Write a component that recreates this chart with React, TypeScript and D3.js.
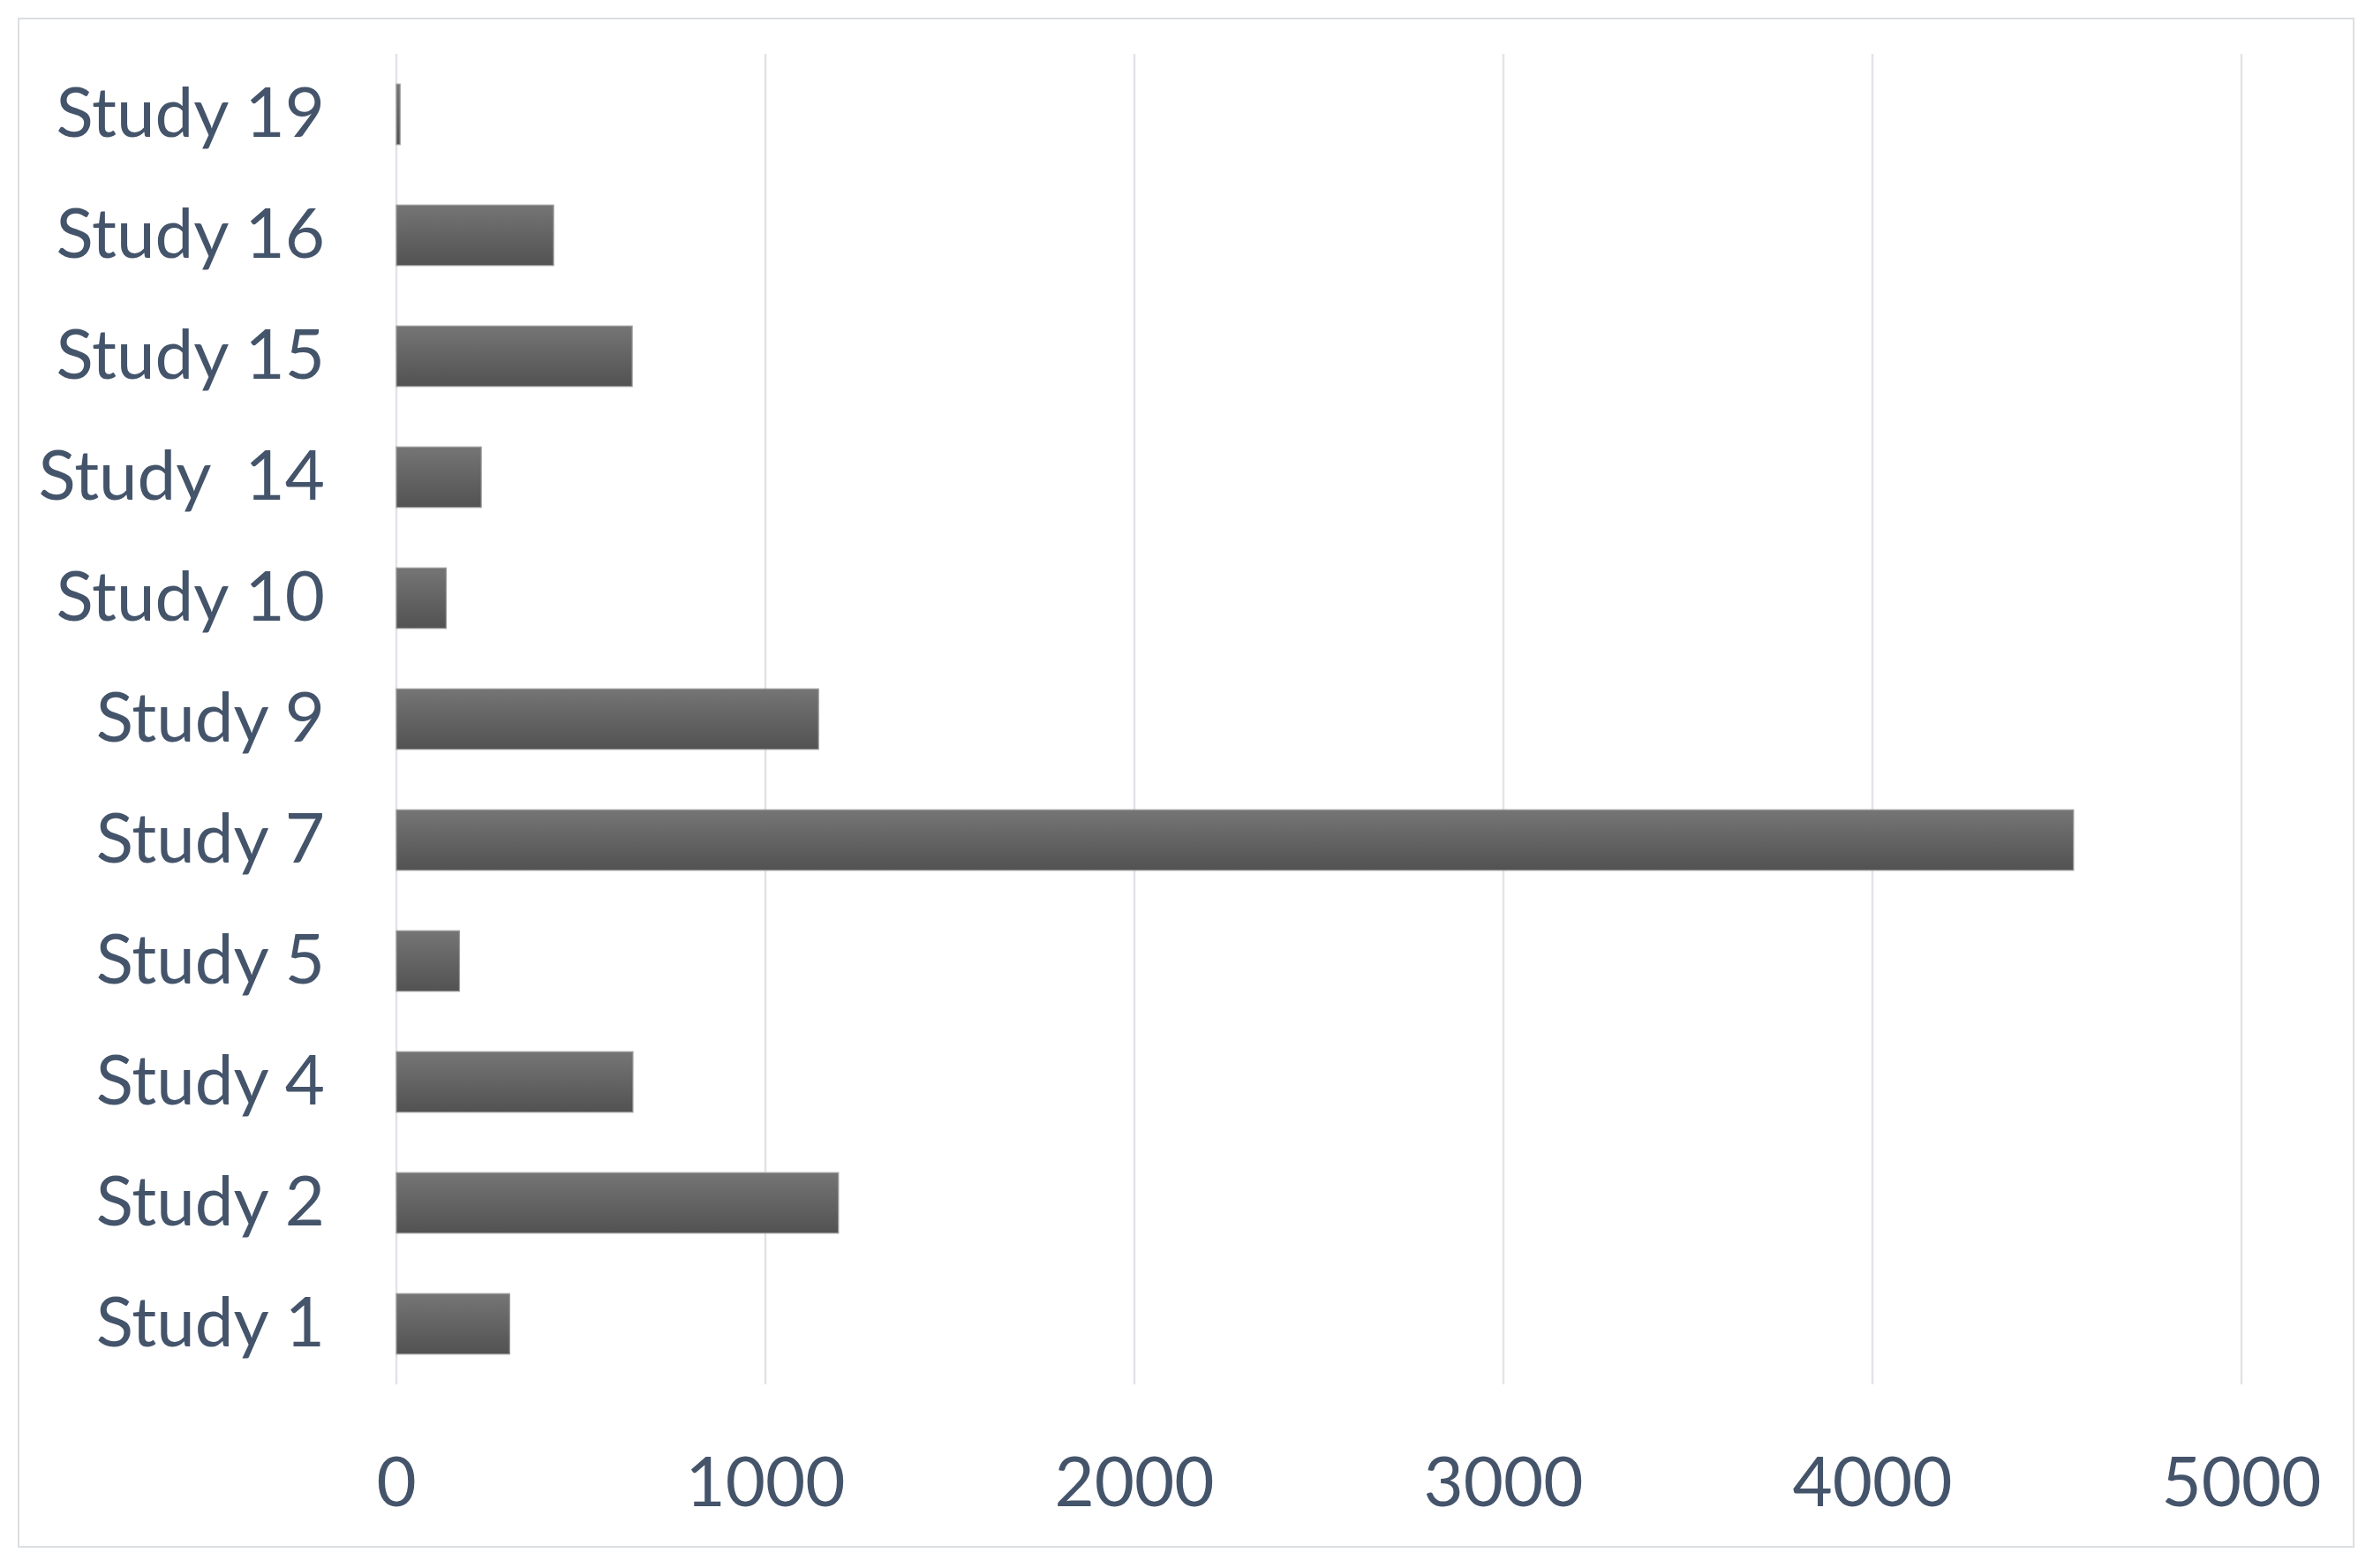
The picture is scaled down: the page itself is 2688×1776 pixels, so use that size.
import React, { useEffect, useRef } from 'react';
import * as d3 from 'd3';

// top row first, as drawn
const studies = ['Study 19', 'Study 16', 'Study 15', 'Study  14', 'Study 10', 'Study 9', 'Study 7', 'Study 5', 'Study 4', 'Study 2', 'Study 1'];
const counts = [10, 426, 639, 230, 135, 1144, 4545, 171, 641, 1198, 307];
const xTicks = [0, 1000, 2000, 3000, 4000, 5000];

const W = 2688;
const H = 1776;

export default function App() {
  const ref = useRef<SVGSVGElement>(null);

  useEffect(() => {
    if (!ref.current) return;
    const svg = d3.select(ref.current);
    svg.selectAll('*').remove();

    const margin = { top: 61, right: 149, bottom: 208, left: 449 };
    const width = W - margin.left - margin.right;
    const height = H - margin.top - margin.bottom;

    const defs = svg.append('defs');
    const grad = defs.append('linearGradient')
      .attr('id', 'barGrad')
      .attr('x1', 0).attr('y1', 0).attr('x2', 0).attr('y2', 1);
    grad.append('stop').attr('offset', '0%').attr('stop-color', '#757575');
    grad.append('stop').attr('offset', '100%').attr('stop-color', '#525252');

    // chart frame
    svg.append('rect')
      .attr('x', 21).attr('y', 21)
      .attr('width', W - 22 - 21).attr('height', H - 24 - 21)
      .attr('fill', '#fff')
      .attr('stroke', '#dcdfe2')
      .attr('stroke-width', 2);

    const g = svg.append('g').attr('transform', `translate(${margin.left},${margin.top})`);

    const x = d3.scaleLinear().domain([0, 5000]).range([0, width]);
    const y = d3.scaleBand().domain(studies).range([0, height]).paddingInner(0.5).paddingOuter(0.25);

    // 1) GRIDLINES
    g.selectAll('line.grid')
      .data(xTicks)
      .enter()
      .append('line')
      .attr('class', 'grid')
      .attr('x1', d => x(d)).attr('x2', d => x(d))
      .attr('y1', 0).attr('y2', height)
      .attr('stroke', '#e1e4e8')
      .attr('stroke-width', 2.5);

    // 2) BARS
    g.selectAll('rect.bar')
      .data(counts)
      .enter()
      .append('rect')
      .attr('class', 'bar')
      .attr('x', x(0))
      .attr('y', (d, i) => y(studies[i]) || 0)
      .attr('width', d => x(d) - x(0))
      .attr('height', y.bandwidth())
      .attr('fill', 'url(#barGrad)')
      .attr('stroke', '#9a9a9a')
      .attr('stroke-width', 1.2);

    // 3) AXIS LABELS
    const textColor = '#44546a';
    const font = 'Lato, "Open Sans", sans-serif';

    g.selectAll('text.cat')
      .data(studies)
      .enter()
      .append('text')
      .attr('class', 'cat')
      .attr('x', -81)
      .attr('y', d => (y(d) || 0) + y.bandwidth() / 2)
      .attr('dy', '0.33em')
      .attr('text-anchor', 'end')
      .attr('font-family', font)
      .attr('font-size', 78)
      .attr('fill', textColor)
      .style('white-space', 'pre')
      .text(d => d);

    g.selectAll('text.tick')
      .data(xTicks)
      .enter()
      .append('text')
      .attr('class', 'tick')
      .attr('x', d => x(d))
      .attr('y', height + 110)
      .attr('dy', '0.36em')
      .attr('text-anchor', 'middle')
      .attr('font-family', font)
      .attr('font-size', 78)
      .attr('fill', textColor)
      .text(d => d);
  }, []);

  return <svg ref={ref} width={W} height={H} style={{ display: 'block', margin: -8 }} />;
}
